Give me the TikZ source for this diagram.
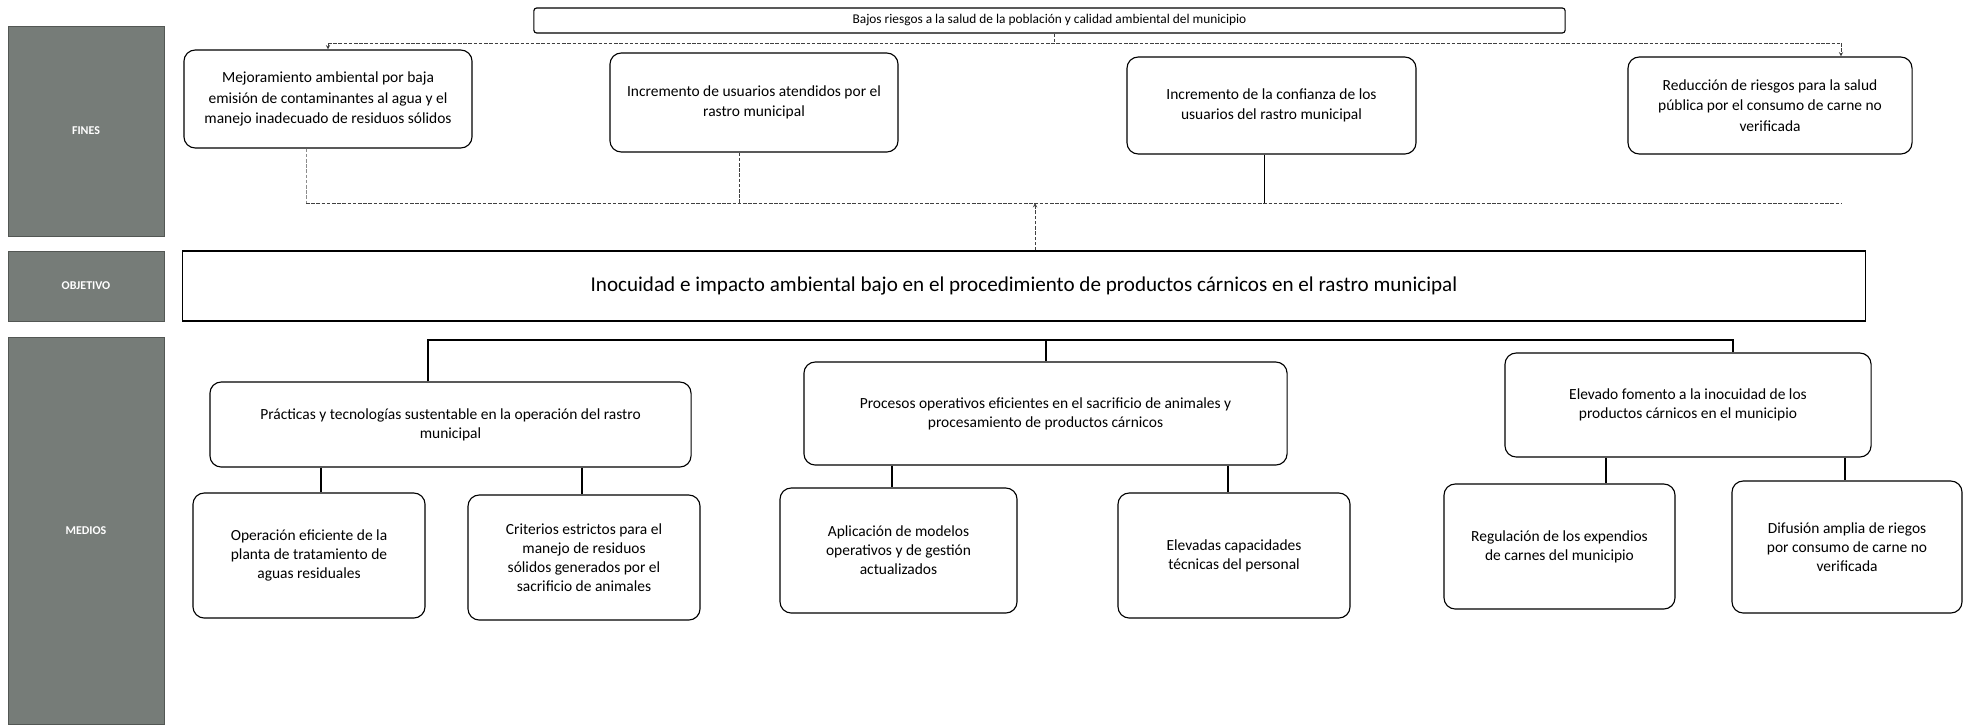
\documentclass[tikz,border=0pt]{standalone}
\usepackage{fontspec}
\setmainfont{Carlito}
\usepackage{tikz}
\usetikzlibrary{arrows,positioning}
\definecolor{panelgris}{RGB}{118,124,120}
\tikzstyle{panel}    = [rectangle, fill=panelgris, draw=panelgris!70!black, text=white, inner sep=0pt, font=\fontsize{8.5}{10}\selectfont\bfseries]
\tikzstyle{fin}      = [rectangle, rounded corners=8pt, draw=black, line width=0.8pt, align=center, inner sep=2pt, font=\fontsize{11}{14.5}\selectfont]
\tikzstyle{medio}    = [fin, font=\fontsize{11}{13.5}\selectfont]
\tikzstyle{linea}    = [line width=0.8pt]
\tikzstyle{punteada} = [thin, dash pattern=on 2.5pt off 1.2pt, black!75]
\tikzstyle{flecha}   = [->,>=stealth]

\begin{document}
\begin{tikzpicture}[x=0.025cm, y=-0.025cm]
		\useasboundingbox (0,0) rectangle (1976,724);

		\node[panel, minimum width=3.9cm, minimum height=5.25cm] (pfines) at (86,131) {FINES};
		\node[panel, minimum width=3.9cm, minimum height=1.75cm] (pobjetivo) at (86,286) {OBJETIVO};
		\node[panel, minimum width=3.9cm, minimum height=9.675cm] (pmedios) at (86,530.5) {MEDIOS};

		\node[rectangle, rounded corners=2pt, draw=black, line width=0.8pt, minimum width=25.775cm, minimum height=0.625cm, inner sep=0pt, font=\fontsize{9.5}{11}\selectfont] (bajos) at (1049.5,20.5) {Bajos riesgos a la salud de la población y calidad ambiental del municipio};

		\node[fin, minimum width=7.2cm, minimum height=2.45cm] (mejora) at (328,99) {Mejoramiento ambiental por baja\\emisión de contaminantes al agua y el\\manejo inadecuado de residuos sólidos};
		\node[fin, minimum width=7.2cm, minimum height=2.475cm] (usuarios) at (754,102.5) {Incremento de usuarios atendidos por el\\rastro municipal};
		\node[fin, minimum width=7.225cm, minimum height=2.425cm] (confianza) at (1271.5,105.5) {Incremento de la confianza de los\\usuarios del rastro municipal};
		\node[fin, minimum width=7.1cm, minimum height=2.425cm] (reduccion) at (1770,105.5) {Reducción de riesgos para la salud\\pública por el consumo de carne no\\verificada};

		\node[rectangle, draw=black, line width=0.8pt, minimum width=42.05cm, minimum height=1.75cm, font=\fontsize{15}{18}\selectfont] (objetivo) at (1024,286) {Inocuidad e impacto ambiental bajo en el procedimiento de productos cárnicos en el rastro municipal};

		\node[medio, minimum width=12.025cm, minimum height=2.125cm] (practicas) at (450.5,424.5) {Prácticas y tecnologías sustentable en la operación del rastro\\municipal};
		\node[medio, minimum width=12.075cm, minimum height=2.575cm] (procesos) at (1045.5,413.5) {Procesos operativos eficientes en el sacrificio de animales y\\procesamiento de productos cárnicos};
		\node[medio, minimum width=9.15cm, minimum height=2.6cm] (elevado) at (1688,405) {Elevado fomento a la inocuidad de los\\productos cárnicos en el municipio};

		\node[medio, minimum width=5.8cm, minimum height=3.125cm] (operacion) at (309,555.5) {Operación eficiente de la\\planta de tratamiento de\\aguas residuales};
		\node[medio, minimum width=5.8cm, minimum height=3.125cm] (criterios) at (584,557.5) {Criterios estrictos para el\\manejo de residuos\\sólidos generados por el\\sacrificio de animales};
		\node[medio, minimum width=5.925cm, minimum height=3.125cm] (aplicacion) at (898.5,550.5) {Aplicación de modelos\\operativos y de gestión\\actualizados};
		\node[medio, minimum width=5.8cm, minimum height=3.125cm] (elevadas) at (1234,555.5) {Elevadas capacidades\\técnicas del personal};
		\node[medio, minimum width=5.775cm, minimum height=3.125cm] (regulacion) at (1559.5,546.5) {Regulación de los expendios\\de carnes del municipio};
		\node[medio, minimum width=5.75cm, minimum height=3.3cm] (difusion) at (1847,547) {Difusión amplia de riegos\\por consumo de carne no\\verificada};

		\coordinate (tL) at (328,43);
		\coordinate (tC) at (1054,43);
		\coordinate (tR) at (1841,43);
		\draw[punteada] (bajos.south -| tC) -- (tC);
		\draw[punteada] (tL) -- (tR);
		\draw[punteada, flecha] (tL) -- (mejora.north);
		\draw[punteada, flecha] (tR) -- (tR |- reduccion.north);

		\coordinate (mL) at (306,203);
		\coordinate (mU) at (739,203);
		\coordinate (mC) at (1035,203);
		\coordinate (mF) at (1264,203);
		\coordinate (mR) at (1841,203);
		\draw[punteada] (mL) -- (mR);
		\draw[punteada, black!45] (mejora.south -| mL) -- (mL);
		\draw[punteada] (usuarios.south -| mU) -- (mU);
		\draw[thin] (confianza.south -| mF) -- (mF);
		\draw[punteada, flecha] (objetivo.north -| mC) -- (mC);

		\coordinate (bL) at (428,340);
		\coordinate (bC) at (1046,340);
		\coordinate (bR) at (1733,340);
		\draw[linea] (practicas.north -| bL) -- (bL) -- (bR) -- (elevado.north -| bR);
		\draw[linea] (bC) -- (procesos.north -| bC);

		\coordinate (k1) at (321,480);
		\coordinate (k2) at (582,480);
		\coordinate (k3) at (892,480);
		\coordinate (k4) at (1228,480);
		\coordinate (k5) at (1606,480);
		\coordinate (k6) at (1845,480);
		\draw[linea] (practicas.south -| k1) -- (operacion.north -| k1);
		\draw[linea] (practicas.south -| k2) -- (criterios.north -| k2);
		\draw[linea] (procesos.south -| k3) -- (aplicacion.north -| k3);
		\draw[linea] (procesos.south -| k4) -- (elevadas.north -| k4);
		\draw[linea] (elevado.south -| k5) -- (regulacion.north -| k5);
		\draw[linea] (elevado.south -| k6) -- (difusion.north -| k6);
	\end{tikzpicture}
\end{document}
